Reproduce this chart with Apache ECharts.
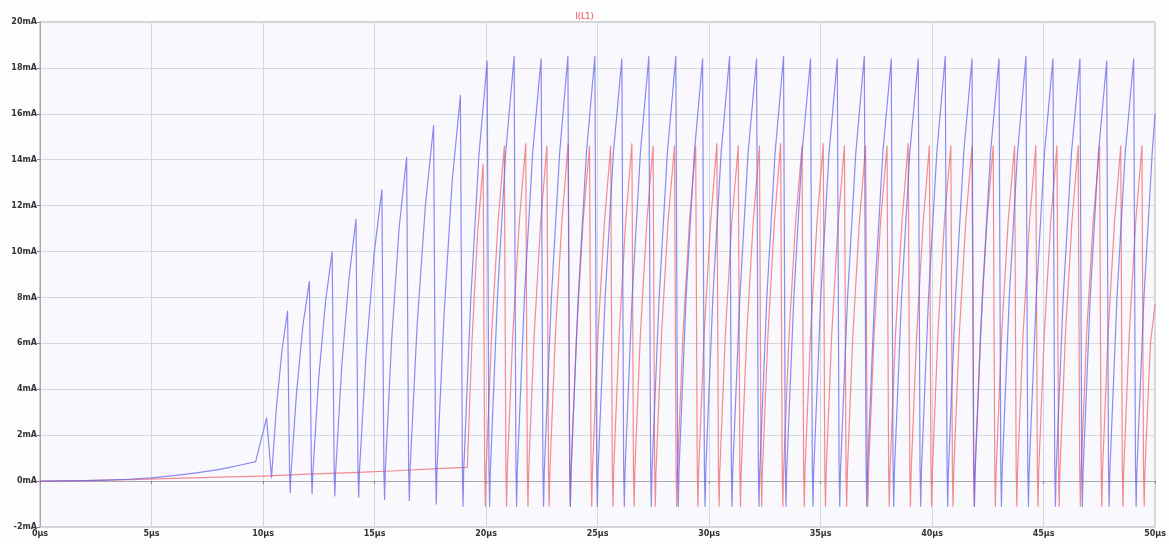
<!DOCTYPE html>
<html>
<head>
<meta charset="utf-8">
<script src="https://cdn.jsdelivr.net/npm/echarts@6/dist/echarts.min.js"></script>
<style>html,body{margin:0;padding:0;background:#fdfdfe}#c{width:1169px;height:544px}</style>
</head>
<body>
<div id="c"></div>
<script>
// time in µs, current in mA
const traceTitle = 'I(L1)';
const yTicks = [-2, 0, 2, 4, 6, 8, 10, 12, 14, 16, 18, 20];
const xTicks = [0, 5, 10, 15, 20, 25, 30, 35, 40, 45, 50];

const blueWave = [
 [0,0],[1,0.01],[2,0.02],[3,0.04],[4,0.08],[5,0.14],[6,0.24],[7,0.36],[8,0.5],[8.5,0.6],[9,0.7],[9.67,0.85],[10.16,2.75],[10.38,0.15],
 [10.6,3.2],[10.85,5.7],[11.1,7.4],
 [11.19,0.4],[11.22,-0.5],[11.25,0.3],[11.5,3.8],[11.79,6.8],[12.08,8.7],
 [12.17,0.4],[12.2,-0.55],[12.23,0.3],[12.49,4.4],[12.8,7.8],[13.1,10.0],
 [13.19,0.4],[13.22,-0.65],[13.25,0.3],[13.53,5.0],[13.85,8.8],[14.17,11.4],
 [14.26,0.4],[14.29,-0.7],[14.32,0.35],[14.62,5.5],[14.98,9.9],[15.33,12.7],
 [15.42,0.4],[15.45,-0.8],[15.48,0.4],[15.77,6.2],[16.1,11.0],[16.44,14.1],
 [16.53,0.45],[16.56,-0.85],[16.59,0.45],[16.91,6.8],[17.28,12.0],[17.65,15.5],
 [17.74,0.5],[17.77,-1.0],[17.8,0.5],[18.12,7.3],[18.48,13.05],[18.85,16.8],
 [18.94,0.55],[18.97,-1.1],[19.0,0.5],[19.32,8.0],[19.68,14.2],[20.05,18.3],
 [20.13,0.6],[20.16,-1.1],[20.19,0.4],[20.51,8.0],[20.88,14.3],[21.26,18.5],
 [21.34,0.6],[21.37,-1.1],[21.40,0.4],[21.72,8.0],[22.09,14.3],[22.47,18.4],
 [22.55,0.6],[22.58,-1.1],[22.61,0.4],[22.93,8.0],[23.30,14.3],[23.67,18.5],
 [23.75,0.6],[23.78,-1.1],[23.81,0.4],[24.13,8.0],[24.50,14.3],[24.88,18.5],
 [24.96,0.6],[24.99,-1.1],[25.02,0.4],[25.34,8.0],[25.71,14.3],[26.09,18.4],
 [26.17,0.6],[26.20,-1.1],[26.23,0.4],[26.55,8.0],[26.92,14.3],[27.30,18.5],
 [27.38,0.6],[27.41,-1.1],[27.44,0.4],[27.76,8.0],[28.13,14.3],[28.51,18.5],
 [28.59,0.6],[28.62,-1.1],[28.65,0.4],[28.97,8.0],[29.34,14.3],[29.71,18.4],
 [29.79,0.6],[29.82,-1.1],[29.85,0.4],[30.17,8.0],[30.54,14.3],[30.92,18.5],
 [31.00,0.6],[31.03,-1.1],[31.06,0.4],[31.38,8.0],[31.75,14.3],[32.13,18.4],
 [32.21,0.6],[32.24,-1.1],[32.27,0.4],[32.59,8.0],[32.96,14.3],[33.34,18.5],
 [33.42,0.6],[33.45,-1.1],[33.48,0.4],[33.80,8.0],[34.17,14.3],[34.55,18.4],
 [34.63,0.6],[34.66,-1.1],[34.69,0.4],[35.01,8.0],[35.38,14.3],[35.75,18.4],
 [35.83,0.6],[35.86,-1.1],[35.89,0.4],[36.21,8.0],[36.58,14.3],[36.96,18.5],
 [37.04,0.6],[37.07,-1.1],[37.10,0.4],[37.42,8.0],[37.79,14.3],[38.17,18.4],
 [38.25,0.6],[38.28,-1.1],[38.31,0.4],[38.63,8.0],[39.00,14.3],[39.38,18.4],
 [39.46,0.6],[39.49,-1.1],[39.52,0.4],[39.84,8.0],[40.21,14.3],[40.59,18.5],
 [40.67,0.6],[40.70,-1.1],[40.73,0.4],[41.05,8.0],[41.42,14.3],[41.79,18.4],
 [41.87,0.6],[41.90,-1.1],[41.93,0.4],[42.25,8.0],[42.62,14.3],[43.00,18.4],
 [43.08,0.6],[43.11,-1.1],[43.14,0.4],[43.46,8.0],[43.83,14.3],[44.21,18.5],
 [44.29,0.6],[44.32,-1.1],[44.35,0.4],[44.67,8.0],[45.04,14.3],[45.42,18.4],
 [45.50,0.6],[45.53,-1.1],[45.56,0.4],[45.88,8.0],[46.25,14.3],[46.63,18.4],
 [46.71,0.6],[46.74,-1.1],[46.77,0.4],[47.09,8.0],[47.46,14.3],[47.83,18.3],
 [47.91,0.6],[47.94,-1.1],[47.97,0.4],[48.29,8.0],[48.66,14.3],[49.04,18.4],
 [49.12,0.6],[49.15,-1.1],[49.18,0.4],[49.50,8.0],[49.87,14.3],[50.0,16.0]
];

const redWave = [
 [0,0],[2,0.02],[4,0.06],[6,0.12],[8,0.17],[10,0.22],[12,0.3],[14,0.37],[16,0.45],[18,0.55],[19.16,0.6],[19.37,6.1],[19.62,10.8],[19.87,13.8],
 [19.94,0.5],[19.97,-1.1],[20.00,0.4],[20.25,6.4],[20.54,11.3],[20.82,14.6],
 [20.89,0.5],[20.92,-1.1],[20.95,0.4],[21.20,6.4],[21.49,11.3],[21.78,14.7],
 [21.85,0.5],[21.88,-1.1],[21.91,0.4],[22.16,6.4],[22.45,11.3],[22.73,14.6],
 [22.80,0.5],[22.83,-1.1],[22.86,0.4],[23.11,6.4],[23.40,11.3],[23.68,14.7],
 [23.75,0.5],[23.78,-1.1],[23.81,0.4],[24.06,6.4],[24.35,11.3],[24.64,14.6],
 [24.71,0.5],[24.74,-1.1],[24.77,0.4],[25.02,6.4],[25.31,11.3],[25.59,14.6],
 [25.66,0.5],[25.69,-1.1],[25.72,0.4],[25.97,6.4],[26.26,11.3],[26.54,14.7],
 [26.61,0.5],[26.64,-1.1],[26.67,0.4],[26.92,6.4],[27.21,11.3],[27.49,14.6],
 [27.56,0.5],[27.59,-1.1],[27.62,0.4],[27.87,6.4],[28.16,11.3],[28.45,14.6],
 [28.52,0.5],[28.55,-1.1],[28.58,0.4],[28.83,6.4],[29.12,11.3],[29.40,14.6],
 [29.47,0.5],[29.50,-1.1],[29.53,0.4],[29.78,6.4],[30.07,11.3],[30.35,14.7],
 [30.42,0.5],[30.45,-1.1],[30.48,0.4],[30.73,6.4],[31.02,11.3],[31.31,14.6],
 [31.38,0.5],[31.41,-1.1],[31.44,0.4],[31.69,6.4],[31.98,11.3],[32.26,14.6],
 [32.33,0.5],[32.36,-1.1],[32.39,0.4],[32.64,6.4],[32.93,11.3],[33.21,14.7],
 [33.28,0.5],[33.31,-1.1],[33.34,0.4],[33.59,6.4],[33.88,11.3],[34.17,14.6],
 [34.24,0.5],[34.27,-1.1],[34.30,0.4],[34.55,6.4],[34.84,11.3],[35.12,14.7],
 [35.19,0.5],[35.22,-1.1],[35.25,0.4],[35.50,6.4],[35.79,11.3],[36.07,14.6],
 [36.14,0.5],[36.17,-1.1],[36.20,0.4],[36.45,6.4],[36.74,11.3],[37.02,14.6],
 [37.09,0.5],[37.12,-1.1],[37.15,0.4],[37.40,6.4],[37.69,11.3],[37.98,14.6],
 [38.05,0.5],[38.08,-1.1],[38.11,0.4],[38.36,6.4],[38.65,11.3],[38.93,14.7],
 [39.00,0.5],[39.03,-1.1],[39.06,0.4],[39.31,6.4],[39.60,11.3],[39.88,14.6],
 [39.95,0.5],[39.98,-1.1],[40.01,0.4],[40.26,6.4],[40.55,11.3],[40.84,14.6],
 [40.91,0.5],[40.94,-1.1],[40.97,0.4],[41.22,6.4],[41.51,11.3],[41.79,14.6],
 [41.86,0.5],[41.89,-1.1],[41.92,0.4],[42.17,6.4],[42.46,11.3],[42.74,14.6],
 [42.81,0.5],[42.84,-1.1],[42.87,0.4],[43.12,6.4],[43.41,11.3],[43.70,14.6],
 [43.77,0.5],[43.80,-1.1],[43.83,0.4],[44.08,6.4],[44.37,11.3],[44.65,14.6],
 [44.72,0.5],[44.75,-1.1],[44.78,0.4],[45.03,6.4],[45.32,11.3],[45.60,14.6],
 [45.67,0.5],[45.70,-1.1],[45.73,0.4],[45.98,6.4],[46.27,11.3],[46.55,14.6],
 [46.62,0.5],[46.65,-1.1],[46.68,0.4],[46.93,6.4],[47.22,11.3],[47.51,14.6],
 [47.58,0.5],[47.61,-1.1],[47.64,0.4],[47.89,6.4],[48.18,11.3],[48.46,14.6],
 [48.53,0.5],[48.56,-1.1],[48.59,0.4],[48.84,6.4],[49.13,11.3],[49.41,14.6],
 [49.48,0.5],[49.51,-1.1],[49.54,0.4],[49.79,6.0],[50.0,7.7]
];

const chart = echarts.init(document.getElementById('c'), null, {renderer: 'canvas'});
const labelStyle = {color: '#333', fontSize: 8, fontWeight: 'bold', fontFamily: 'DejaVu Sans'};
chart.setOption({
  animation: false,
  backgroundColor: '#fdfdfe',
  title: {
    text: traceTitle, left: 'center', top: 8,
    textStyle: {color: '#e8494f', fontSize: 8, fontWeight: 'normal', fontFamily: 'DejaVu Sans'}
  },
  grid: {left: 40, right: 7, top: 22, bottom: 17, show: true, backgroundColor: '#f9f9fd', borderColor: '#a8a8b0', borderWidth: 1},
  xAxis: {
    type: 'value', min: xTicks[0], max: xTicks[xTicks.length - 1], interval: 5,
    axisLine: {show: true, lineStyle: {color: '#a8a8b0'}},
    axisTick: {show: true, length: 3, lineStyle: {color: '#888'}},
    axisLabel: Object.assign({margin: 3, formatter: v => v + 'µs', showMaxLabel: true}, labelStyle),
    splitLine: {show: true, lineStyle: {color: '#d6d6de', width: 1}}
  },
  yAxis: {
    type: 'value', min: yTicks[0], max: yTicks[yTicks.length - 1], interval: 2,
    axisLine: {show: true, lineStyle: {color: '#a8a8b0'}},
    axisTick: {show: true, length: 3, lineStyle: {color: '#888'}},
    axisLabel: Object.assign({margin: 3, formatter: v => v + 'mA'}, labelStyle),
    splitLine: {show: true, lineStyle: {color: '#d6d6de', width: 1}}
  },
  series: [
    {type: 'line', data: redWave, showSymbol: false, symbol: 'none', sampling: 'none',
     lineStyle: {color: 'rgba(240,110,115,0.8)', width: 1.2, join: 'round'}, z: 2},
    {type: 'line', data: blueWave, showSymbol: false, symbol: 'none', sampling: 'none',
     lineStyle: {color: 'rgba(100,100,235,0.75)', width: 1.2, join: 'round'}, z: 3}
  ]
});
</script>
</body>
</html>
